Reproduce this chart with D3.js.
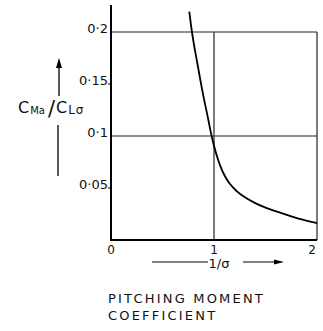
<!DOCTYPE html>
<html>
<head>
<meta charset="utf-8">
<script src="https://cdn.jsdelivr.net/npm/d3@7"></script>
<style>
  body { margin: 0; background: #fff; }
  text { font-family: "DejaVu Sans", sans-serif; fill: #111; }
</style>
</head>
<body>
<svg id="chart"></svg>
<script>
// curve: x = 1/sigma, y = Cm / CL
const invSigma = [0.76, 0.786, 0.84, 0.89, 0.94, 0.98, 1.02, 1.06, 1.10, 1.15, 1.22, 1.30, 1.40, 1.50, 1.62, 1.75, 1.87, 2.0];
const ratio = [0.2195, 0.200, 0.169, 0.142, 0.118, 0.0985, 0.0835, 0.0715, 0.0625, 0.0545, 0.047, 0.041, 0.0355, 0.0312, 0.027, 0.0228, 0.0194, 0.0163];
const yTicks = [0.2, 0.15, 0.1, 0.05];
const yTickLabels = ["0·2", "0·15", "0·1", "0·05"];
const xTicks = [0, 1, 2];
const xTickLabels = ["0", "1", "2"];
const gridY = [0.1, 0.2];
const gridX = [1, 2];

const W = 323, H = 331;
const svg = d3.select("#chart").attr("width", W).attr("height", H);

const x = d3.scaleLinear().domain([0, 2]).range([111, 317]);
const y = d3.scaleLinear().domain([0, 0.2]).range([240, 32]);

// grid
svg.selectAll(".gy").data(gridY).enter().append("line")
  .attr("x1", x(0)).attr("x2", x(2))
  .attr("y1", d => y(d)).attr("y2", d => y(d))
  .attr("stroke", "#222").attr("stroke-width", 1.2);
svg.selectAll(".gx").data(gridX).enter().append("line")
  .attr("x1", d => x(d)).attr("x2", d => x(d))
  .attr("y1", y(0)).attr("y2", y(0.2))
  .attr("stroke", "#222").attr("stroke-width", 1.2);

// axes
svg.append("line").attr("x1", x(0)).attr("x2", x(0))
  .attr("y1", 5).attr("y2", y(0) + 1)
  .attr("stroke", "#000").attr("stroke-width", 2);
svg.append("line").attr("x1", x(0) - 1).attr("x2", x(2))
  .attr("y1", y(0)).attr("y2", y(0))
  .attr("stroke", "#000").attr("stroke-width", 2);

// little ticks
svg.selectAll(".tk").data([0.15, 0.05]).enter().append("line")
  .attr("x1", x(0) - 3).attr("x2", x(0))
  .attr("y1", d => y(d)).attr("y2", d => y(d))
  .attr("stroke", "#000").attr("stroke-width", 1);

// y tick labels
svg.selectAll(".yl").data(yTicks).enter().append("text")
  .attr("x", x(0) - 3).attr("y", d => y(d) + 1)
  .attr("text-anchor", "end").attr("font-size", 13)
  .text((d, i) => yTickLabels[i]);

// x tick labels
svg.selectAll(".xl").data(xTicks).enter().append("text")
  .attr("x", (d, i) => x(d) - (i === 2 ? 5 : 0)).attr("y", y(0) + 14)
  .attr("text-anchor", "middle").attr("font-size", 12)
  .text((d, i) => xTickLabels[i]);

// curve
const line = d3.line()
  .x((d, i) => x(invSigma[i]))
  .y(d => y(d))
  .curve(d3.curveMonotoneX);
svg.append("path").datum(ratio)
  .attr("d", line)
  .attr("fill", "none").attr("stroke", "#000").attr("stroke-width", 1.8);

// y axis label with arrow
svg.append("line").attr("x1", 59).attr("x2", 59).attr("y1", 62).attr("y2", 96)
  .attr("stroke", "#000").attr("stroke-width", 1.3);
svg.append("path").attr("d", "M56,68 L59,58 L62,68 Z").attr("fill", "#000");
svg.append("line").attr("x1", 58).attr("x2", 58).attr("y1", 125).attr("y2", 176)
  .attr("stroke", "#000").attr("stroke-width", 1.3);
const yl = svg.append("text").attr("x", 18).attr("y", 113).attr("font-size", 16);
yl.append("tspan").text("C");
yl.append("tspan").attr("font-size", 10).attr("dy", 1).attr("dx", 1).text("Ma");
yl.append("tspan").attr("font-size", 21).attr("dy", 2).attr("dx", 3).text("/");
yl.append("tspan").attr("font-size", 16).attr("dy", -3).attr("dx", 1).text("C");
yl.append("tspan").attr("font-size", 12).attr("dy", 1).attr("dx", 1).attr("letter-spacing", 1).text("Lσ");

// x axis label with arrow
svg.append("line").attr("x1", 152).attr("x2", 208).attr("y1", 262).attr("y2", 262)
  .attr("stroke", "#000").attr("stroke-width", 1);
svg.append("text").attr("x", 219).attr("y", 268).attr("text-anchor", "middle")
  .attr("font-size", 13).text("1/σ");
svg.append("line").attr("x1", 243).attr("x2", 278).attr("y1", 262).attr("y2", 262)
  .attr("stroke", "#000").attr("stroke-width", 1);
svg.append("path").attr("d", "M274,259.5 L284,262 L274,264.5 Z").attr("fill", "#000");

// title
svg.append("text").attr("x", 108).attr("y", 303).attr("font-size", 13)
  .attr("letter-spacing", 2.2).text("PITCHING  MOMENT");
svg.append("text").attr("x", 108).attr("y", 320).attr("font-size", 13)
  .attr("letter-spacing", 2.2).text("COEFFICIENT");
</script>
</body>
</html>
